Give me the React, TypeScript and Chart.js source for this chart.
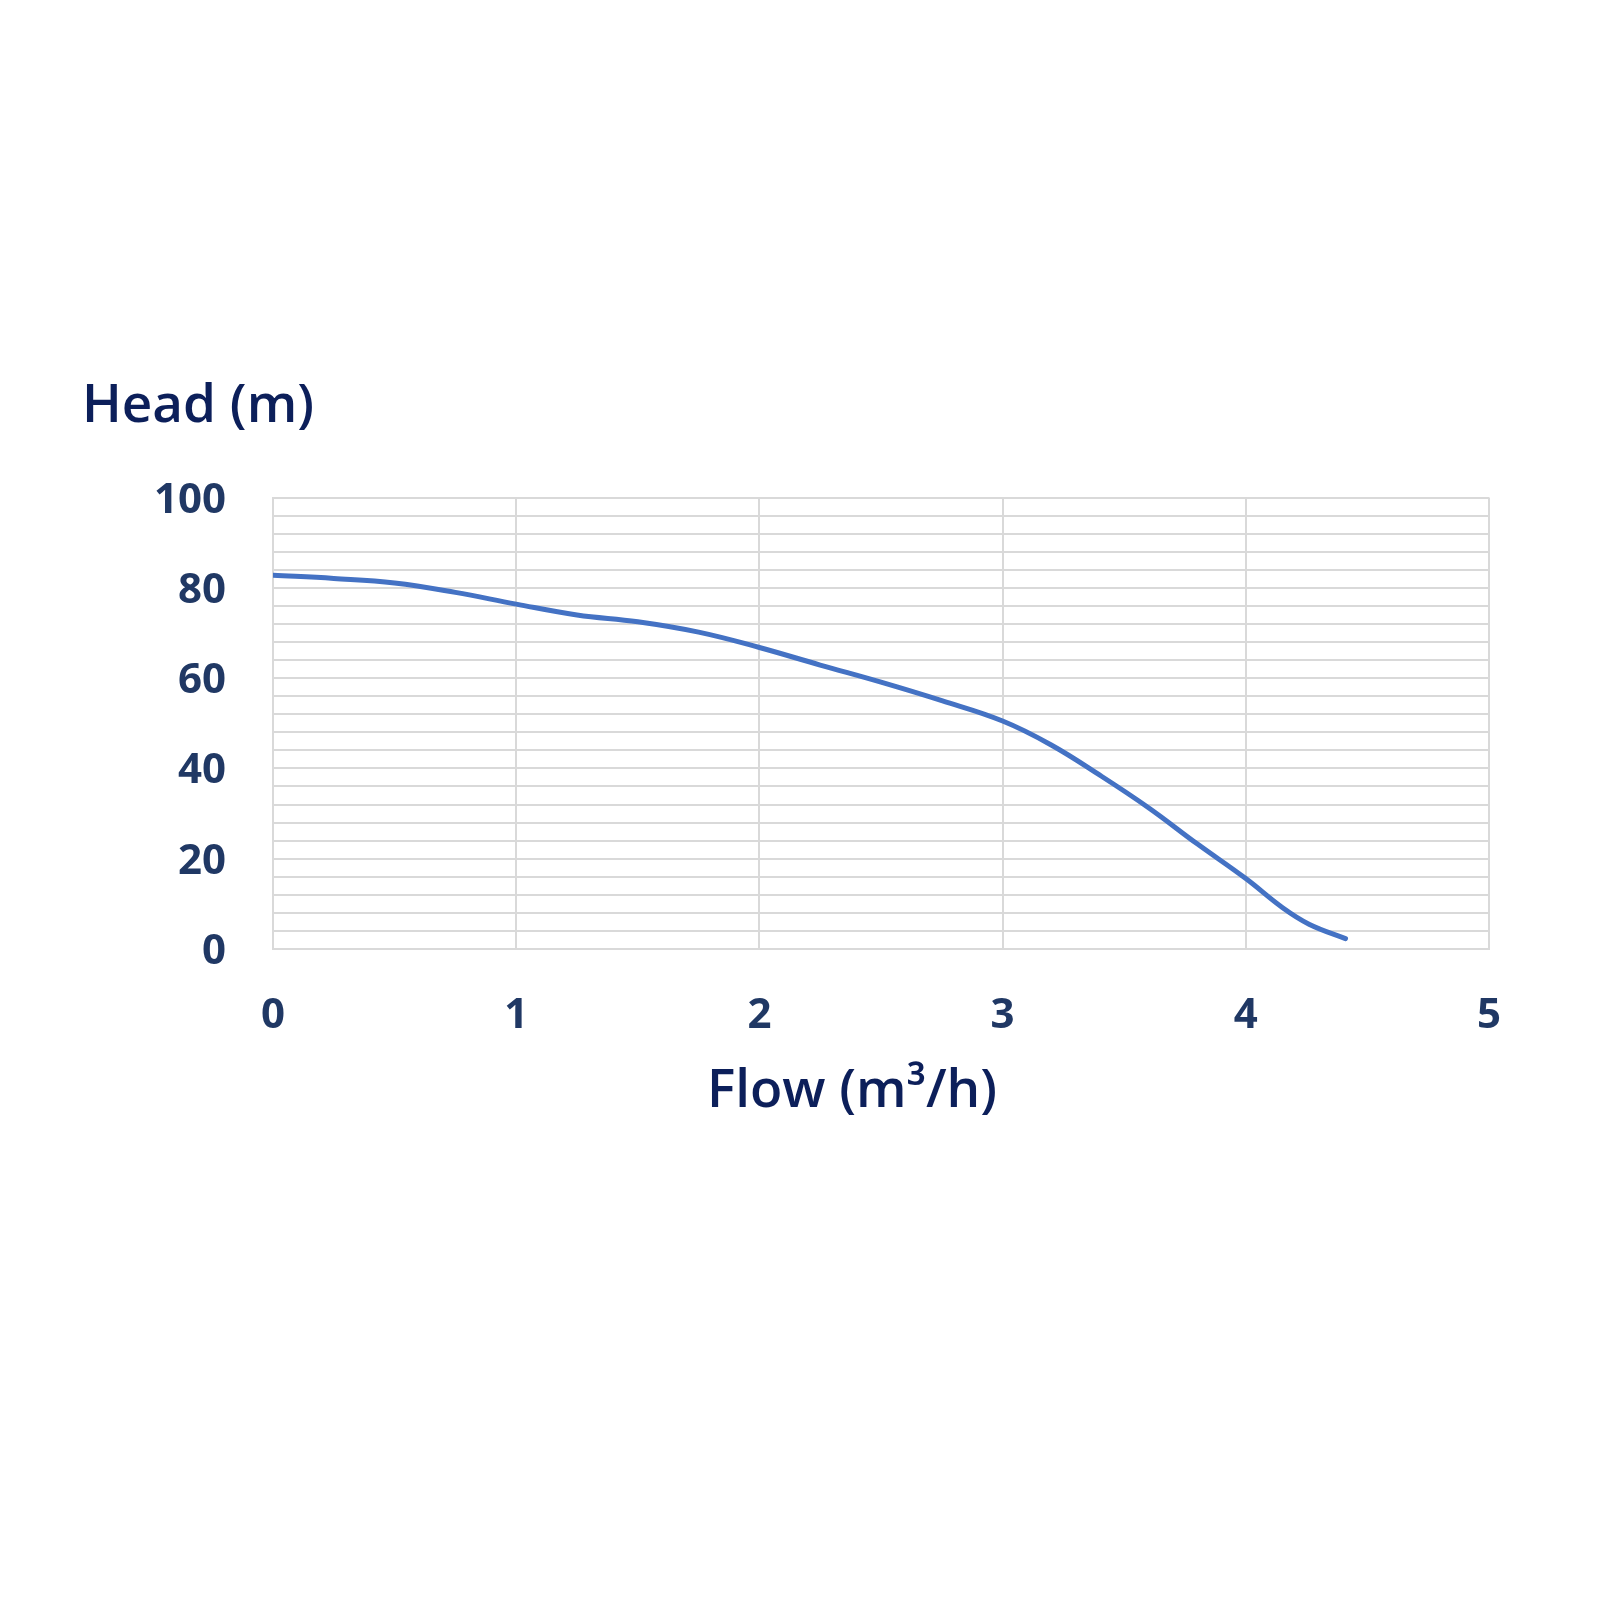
import React, { useEffect, useRef } from "react";
import { Chart, registerables } from "chart.js";

Chart.register(...registerables);

const flowValues = [0, 0.25, 0.5, 0.75, 1.0, 1.25, 1.5, 1.75, 2.0, 2.25, 2.5, 2.75, 3.0, 3.2, 3.4, 3.6, 3.8, 4.0, 4.15, 4.26, 4.41];
const headValues = [82.8, 82.1, 81.1, 79.0, 76.4, 74.0, 72.5, 70.2, 66.8, 62.9, 59.1, 55.0, 50.5, 45.2, 38.5, 31.3, 23.3, 15.6, 9.2, 5.5, 2.3];
const yTickLabels = [0, 20, 40, 60, 80, 100];
const xTickLabels = [0, 1, 2, 3, 4, 5];
const yTitle = "Head (m)";
const xTitle = "Flow (m³/h)";

const TICK_COLOR = "#203864";
const TITLE_COLOR = "#0c1f5a";
const GRID_COLOR = "#d9d9d9";

export default function App() {
  const ref = useRef<HTMLCanvasElement | null>(null);

  useEffect(() => {
    if (!ref.current) return;
    const xTitlePlugin = {
      id: "xTitlePlugin",
      afterDraw(chart: any) {
        const { ctx, chartArea } = chart;
        ctx.save();
        ctx.font = '600 53px "Open Sans"';
        ctx.fillStyle = TITLE_COLOR;
        ctx.textAlign = "center";
        ctx.textBaseline = "middle";
        ctx.fillText(xTitle, (chartArea.left + chartArea.right) / 2 - 29, chartArea.bottom + 143);
        ctx.restore();
      },
    };
    const chart = new Chart(ref.current, {
      type: "line",
      data: {
        datasets: [
          {
            data: flowValues.map((f, i) => ({ x: f, y: headValues[i] })),
            borderColor: "#4472C4",
            borderWidth: 5,
            borderCapStyle: "round",
            borderJoinStyle: "round",
            pointRadius: 0,
            tension: 0.4,
            fill: false,
          },
        ],
      },
      options: {
        animation: false,
        responsive: false,
        maintainAspectRatio: false,
        layout: { padding: { left: 82, right: 111, top: 375, bottom: 551 } },
        plugins: {
          legend: { display: false },
          tooltip: { enabled: false },
          title: {
            display: true,
            text: yTitle,
            align: "start",
            color: TITLE_COLOR,
            font: { family: "Open Sans", size: 53, weight: "600" },
            padding: { top: 0, bottom: 59 },
          },
        },
        scales: {
          x: {
            type: "linear",
            min: 0,
            max: 5,
            afterFit(scale: any) {
              scale.height = 100;
            },
            ticks: {
              stepSize: 1,
              padding: 42,
              color: TICK_COLOR,
              font: { family: "Open Sans", size: 42, weight: "bold" },
              callback: (v: any) => (xTickLabels.includes(Number(v)) ? String(v) : ""),
            },
            grid: { color: GRID_COLOR, lineWidth: 2, drawTicks: false },
            border: { display: true, color: GRID_COLOR, width: 2 },
          },
          y: {
            type: "linear",
            min: 0,
            max: 100,
            afterFit(scale: any) {
              scale.width = 191;
            },
            ticks: {
              stepSize: 4,
              padding: 47,
              labelOffset: 3,
              color: TICK_COLOR,
              font: { family: "Open Sans", size: 42, weight: "bold" },
              autoSkip: false,
              callback: (v: any) => (yTickLabels.includes(Number(v)) ? String(v) : ""),
            },
            grid: { color: GRID_COLOR, lineWidth: 2, drawTicks: false },
            border: { display: true, color: GRID_COLOR, width: 2 },
          },
        },
      },
      plugins: [xTitlePlugin],
    });
    return () => chart.destroy();
  }, []);

  return (
    <div style={{ position: "absolute", left: 0, top: 0, width: 1600, height: 1600, background: "#ffffff" }}>
      <canvas ref={ref} width={1600} height={1600} style={{ width: 1600, height: 1600 }} />
    </div>
  );
}
